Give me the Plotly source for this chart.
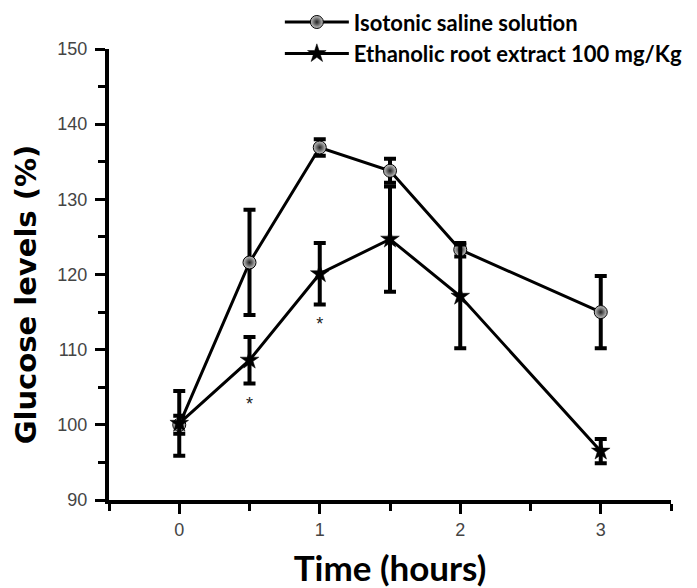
import plotly.graph_objects as go

time_h = [0, 0.5, 1, 1.5, 2, 3]
saline_mean = [100.0, 121.6, 136.9, 133.8, 123.3, 115.0]
saline_err = [1.2, 7.0, 1.1, 1.6, 0.9, 4.8]
extract_mean = [100.2, 108.6, 120.1, 124.7, 117.1, 96.5]
extract_err = [4.3, 3.1, 4.1, 7.0, 6.9, 1.6]
signif_x = [0.5, 1]
signif_y = [102.6, 113.2]
series_names = ["Isotonic saline solution", "Ethanolic root extract 100 mg/Kg"]
y_ticks = [90, 100, 110, 120, 130, 140, 150]
x_ticks = [0, 1, 2, 3]
y_title = "Glucose levels (%)"
x_title = "Time (hours)"

TITLE_FONT = "Lato, Noto Sans, DejaVu Sans"

fig = go.Figure()
fig.add_trace(go.Scatter(
    x=time_h, y=saline_mean, name=series_names[0], mode="lines+markers",
    legendgroup="a",
    line=dict(color="black", width=3),
    marker=dict(symbol="circle", size=13, color="#c8c8c8",
                gradient=dict(type="radial", color="#202020"),
                line=dict(color="black", width=1)),
    error_y=dict(type="data", array=saline_err, color="black", thickness=4, width=6),
))
fig.add_trace(go.Scatter(
    x=time_h, y=extract_mean, name=series_names[1], mode="lines+markers",
    legendgroup="b",
    line=dict(color="black", width=3),
    marker=dict(symbol="star", size=14, color="black", line=dict(color="black", width=0.5)),
    error_y=dict(type="data", array=extract_err, color="black", thickness=4, width=6),
))
fig.add_trace(go.Scatter(
    x=signif_x, y=signif_y, mode="text", text=["*"] * len(signif_x),
    textfont=dict(size=18, color="#222", family="Liberation Sans"), showlegend=False,
    hoverinfo="skip",
))

fig.add_annotation(
    text=y_title, xref="paper", yref="paper", x=-0.114, y=0.456,
    xanchor="right", yanchor="middle", textangle=-90, showarrow=False,
    font=dict(family="DejaVu Sans", size=29, color="black", weight="bold"),
)

fig.update_layout(
    width=697, height=588,
    margin=dict(l=101, r=34, t=41, b=96, autoexpand=False),
    plot_bgcolor="white", paper_bgcolor="white",
    font=dict(family="Liberation Sans, Arial", color="#444"),
    legend=dict(
        x=0.304, y=1.106, xanchor="left", yanchor="top",
        font=dict(family=TITLE_FONT, size=22, color="black", weight="bold"),
        bgcolor="rgba(0,0,0,0)", tracegroupgap=0, itemwidth=64,
    ),
    xaxis=dict(
        range=[-0.5, 3.5], tickvals=x_ticks, ticks="outside", ticklen=10, tickwidth=3,
        tickcolor="black", showline=True, linewidth=4, linecolor="black",
        showgrid=False, zeroline=False, tickfont=dict(size=18, color="#444"),
        automargin=False,
        minor=dict(dtick=0.5, tick0=0, ticks="outside", ticklen=7, tickwidth=3, tickcolor="black"),
        title=dict(text=x_title, font=dict(family=TITLE_FONT, size=35, color="black", weight="bold"), standoff=19),
    ),
    yaxis=dict(
        range=[90, 150], tickvals=y_ticks, ticks="outside", ticklen=10, tickwidth=3,
        tickcolor="black", showline=True, linewidth=4, linecolor="black",
        showgrid=False, zeroline=False, tickfont=dict(size=18, color="#444"),
        automargin=False, ticklabelstandoff=4,
        minor=dict(dtick=5, tick0=90, ticks="outside", ticklen=7, tickwidth=3, tickcolor="black"),
    ),
)

fig.write_html("out.html")
